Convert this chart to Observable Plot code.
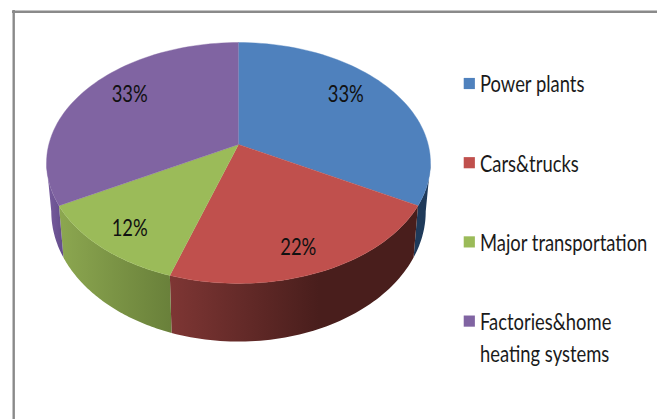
<!DOCTYPE html>
<html><head><meta charset="utf-8">
<script src="https://cdn.jsdelivr.net/npm/d3@7"></script>
<script src="https://cdn.jsdelivr.net/npm/@observablehq/plot@0.6"></script>
<style>html,body{margin:0;padding:0;background:#fff}svg{display:block}</style>
</head><body><div id="chart"></div>
<script>
const categories = ["Power plants", "Cars&trucks", "Major transportation", "Factories&home\nheating systems"];
const shares = [33, 22, 12, 33];
const colors = ["#4F81BD", "#C0504D", "#9BBB59", "#8064A2"];
const sideFrom = ["#1F3A5A", "#7E3634", "#8CA750", "#7A5EA0"];
const sideTo = ["#1F3A5A", "#491E1C", "#69803A", "#634C8A"];

const W = 657, H = 419;
const font = "Lato,'Open Sans',sans-serif";
const P = 0.1535, TOP = {y0: 144, a: 117.6, b: 189.7}, BOT = {y0: 191, a: 127, b: 185}, CX = 238;
const project = (deg, r, rim) => {
  const t = deg * Math.PI / 180, u = r * Math.sin(t), v = -r * Math.cos(t), w = 1 - P * v;
  return {x: CX + rim.b * u / w, y: rim.y0 + rim.a * v / w};
};
const total = d3.sum(shares);
const edges = [0, ...d3.cumsum(shares).map(s => s / total * 360)];
const arcDegs = (a, b) => d3.range(0, 61).map(i => a + (b - a) * i / 60);
const slices = shares.map((_, i) => [{x: CX, y: TOP.y0}, ...arcDegs(edges[i], edges[i + 1]).map(d => project(d, 1, TOP))]);
const visFrom = Math.acos(-P) * 180 / Math.PI, visTo = 360 - visFrom;
const sides = shares.map((_, i) => {
  const a = Math.max(edges[i], visFrom), b = Math.min(edges[i + 1], visTo);
  const degs = arcDegs(a, b);
  return [...degs.map(d => project(d, 1, TOP)), ...degs.slice().reverse().map(d => project(d, 1, BOT))];
});
const labelRadius = [0.72, 0.83, 0.83, 0.72];
const labelDx = [-4, -6, 2.5, 2.5], labelDy = [-9, 0, 1, -9];
const labels = shares.map((s, i) => {
  const p = project((edges[i] + edges[i + 1]) / 2, labelRadius[i], TOP);
  return {x: p.x + labelDx[i], y: p.y + labelDy[i], text: s + "%"};
});
const legendTop = 83, legendStep = 79.2;
const legend = categories.map((c, i) => ({name: c, color: colors[i], y: legendTop + i * legendStep}));

const defs = () => d3.create("svg:defs").html(shares.map((_, i) =>
  `<linearGradient id="side${i}" x1="0" x2="1" y1="0" y2="0"><stop offset="0" stop-color="${sideFrom[i]}"/><stop offset="${i === 1 ? 0.6 : 1}" stop-color="${sideTo[i]}"/></linearGradient>`
).join("")).node();

// Narrow the glyphs horizontally, as the stretched reference does.
const narrow = k => (index, scales, values, dims, ctx, next) => {
  const g = next(index, scales, values, dims, ctx);
  d3.select(g).selectAll("text").attr("transform", function () {
    return (this.getAttribute("transform") || "") + ` scale(${k},1)`;
  });
  return g;
};

const chart = Plot.plot({
  width: W, height: H, margin: 0,
  x: {domain: [0, W], range: [0, W], axis: null},
  y: {domain: [0, H], range: [0, H], axis: null},
  style: {background: "#fff", fontFamily: font},
  marks: [
    defs,
    Plot.ruleY([11.2], {stroke: "#8A8A8A", strokeWidth: 2.4, x1: 12, x2: W}),
    Plot.ruleX([13.2], {stroke: "#8A8A8A", strokeWidth: 2.4, y1: 10, y2: H}),
    ...sides.map((p, i) => Plot.line(p, {x: "x", y: "y", fill: `url(#side${i})`, stroke: "none", curve: "linear"})),
    ...slices.map((p, i) => Plot.line(p, {x: "x", y: "y", fill: colors[i], stroke: colors[i], strokeWidth: 0.4, curve: "linear"})),
    Plot.text(labels, {x: "x", y: "y", text: "text", fill: "#111", fontSize: 23, fontFamily: font, render: narrow(0.8)}),
    Plot.dot(legend, {x: 468.8, y: "y", fill: "color", symbol: "square", r: 6.3, stroke: "none"}),
    Plot.text(legend, {x: 479.5, y: "y", text: "name", textAnchor: "start", lineAnchor: "top", dy: -14, fill: "#1a1a1a", fontSize: 23, lineHeight: 1.4, fontFamily: font, render: narrow(0.8)})
  ]
});
document.getElementById("chart").append(chart);
</script></body></html>
